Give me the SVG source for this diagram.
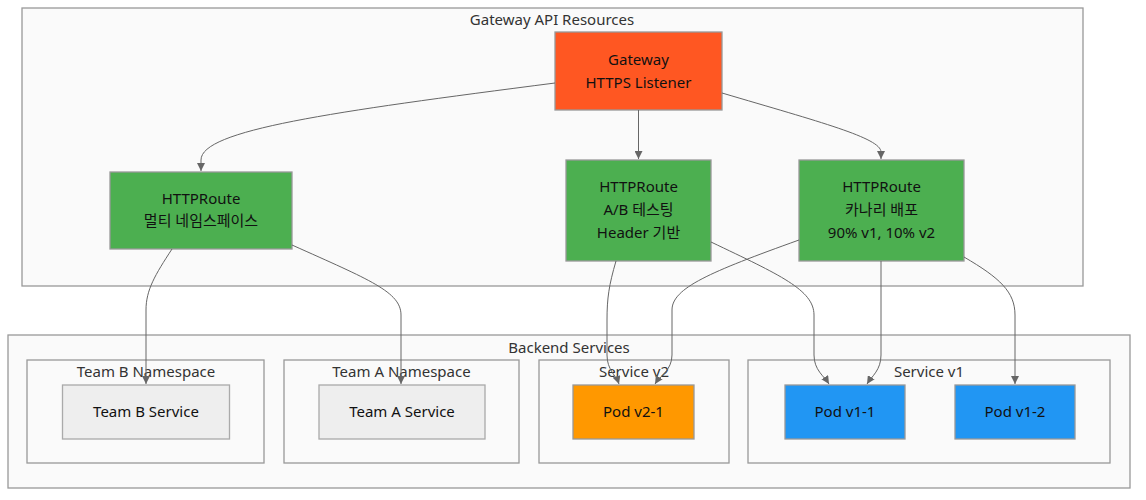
<svg xmlns="http://www.w3.org/2000/svg" width="1146" height="500" viewBox="0 0 1146 500">
<defs>
<marker id="arr" viewBox="0 0 10 10" refX="10" refY="5" markerWidth="8" markerHeight="8" markerUnits="userSpaceOnUse" orient="auto">
<path d="M0,0 L10,5 L0,10 z" fill="#666"/>
</marker>
<style>
.cl{fill:#fafafa;stroke:#999;stroke-width:1.3}
.ct{font-family:"Noto Sans","Noto Sans CJK KR",sans-serif;font-size:15px;fill:#333;text-anchor:middle}
.nd{stroke:#999;stroke-width:1.3}
.nt{font-family:"Noto Sans","Noto Sans CJK KR",sans-serif;font-size:15px;fill:#111;text-anchor:middle}
.e{fill:none;stroke:#666;stroke-width:1;marker-end:url(#arr)}
</style>
</defs>
<rect width="1146" height="500" fill="#fff"/>
<g id="cluster-gateway">
<rect class="cl" x="22" y="8" width="1061" height="278"/>
<text class="ct" x="552" y="25">Gateway API Resources</text>
</g>
<g id="cluster-backend">
<rect class="cl" x="8" y="335" width="1122" height="153"/>
<text class="ct" x="569" y="353">Backend Services</text>
</g>
<g id="cluster-teamb">
<rect class="cl" x="27" y="360" width="237" height="103"/>
<text class="ct" x="146" y="377">Team B Namespace</text>
</g>
<g id="cluster-teama">
<rect class="cl" x="284" y="360" width="235" height="103"/>
<text class="ct" x="401.5" y="377">Team A Namespace</text>
</g>
<g id="cluster-sv2">
<rect class="cl" x="539" y="360" width="190" height="103"/>
<text class="ct" x="634" y="377">Service v2</text>
</g>
<g id="cluster-sv1">
<rect class="cl" x="748" y="360" width="362" height="103"/>
<text class="ct" x="929" y="377">Service v1</text>
</g>
<g id="gateway">
<rect class="nd" x="555" y="32" width="167" height="78" fill="#FF5722"/>
<text class="nt" x="638.5" y="65">Gateway</text>
<text class="nt" x="638.5" y="88">HTTPS Listener</text>
</g>
<g id="route-multi">
<rect class="nd" x="110" y="172" width="182" height="77" fill="#4CAF50"/>
<text class="nt" x="201" y="204">HTTPRoute</text>
<text class="nt" x="201" y="226">멀티 네임스페이스</text>
</g>
<g id="route-ab">
<rect class="nd" x="566" y="160" width="145" height="101" fill="#4CAF50"/>
<text class="nt" x="638.5" y="192">HTTPRoute</text>
<text class="nt" x="638.5" y="215">A/B 테스팅</text>
<text class="nt" x="638.5" y="238">Header 기반</text>
</g>
<g id="route-canary">
<rect class="nd" x="799" y="160" width="165" height="101" fill="#4CAF50"/>
<text class="nt" x="881.5" y="192">HTTPRoute</text>
<text class="nt" x="881.5" y="215">카나리 배포</text>
<text class="nt" x="881.5" y="238">90% v1, 10% v2</text>
</g>
<g id="teamb-svc">
<rect x="62.5" y="385" width="167" height="54" fill="#eeeeee" stroke="#aaa" stroke-width="1.3"/>
<text class="nt" x="146" y="417">Team B Service</text>
</g>
<g id="teama-svc">
<rect x="319" y="385" width="166" height="54" fill="#eeeeee" stroke="#aaa" stroke-width="1.3"/>
<text class="nt" x="402" y="417">Team A Service</text>
</g>
<g id="pod-v2-1">
<rect class="nd" x="573" y="385" width="121" height="54" fill="#FF9800"/>
<text class="nt" x="633.5" y="417">Pod v2-1</text>
</g>
<g id="pod-v1-1">
<rect class="nd" x="785" y="385" width="120" height="54" fill="#2196F3"/>
<text class="nt" x="845" y="417">Pod v1-1</text>
</g>
<g id="pod-v1-2">
<rect class="nd" x="955" y="385" width="120" height="54" fill="#2196F3"/>
<text class="nt" x="1015" y="417">Pod v1-2</text>
</g>
<g id="connectors">
<path class="e" d="M555,83 C330,112 201,130 201,160 L201,171"/>
<path class="e" d="M638.5,110 L638.5,159"/>
<path class="e" d="M722,93 C820,122 881,138 881,152 L881,159"/>
<path class="e" d="M172,249 C155,275 146,290 146,310 L146,384"/>
<path class="e" d="M292,245 C370,280 401,292 401,315 L401,384"/>
<path class="e" d="M616,261 C609,285 607,298 607,320 L607,355 C607,370 616,375 619,384"/>
<path class="e" d="M799,240 C710,272 672,288 672,310 L672,355 C672,370 660,376 655,384"/>
<path class="e" d="M711,242 C780,275 814,290 814,315 L814,355 C814,370 824,376 829,384"/>
<path class="e" d="M881,261 L881,355 C881,370 872,376 867,384"/>
<path class="e" d="M964,257 C1000,278 1015,292 1015,315 L1015,384"/>
</g>
</svg>
